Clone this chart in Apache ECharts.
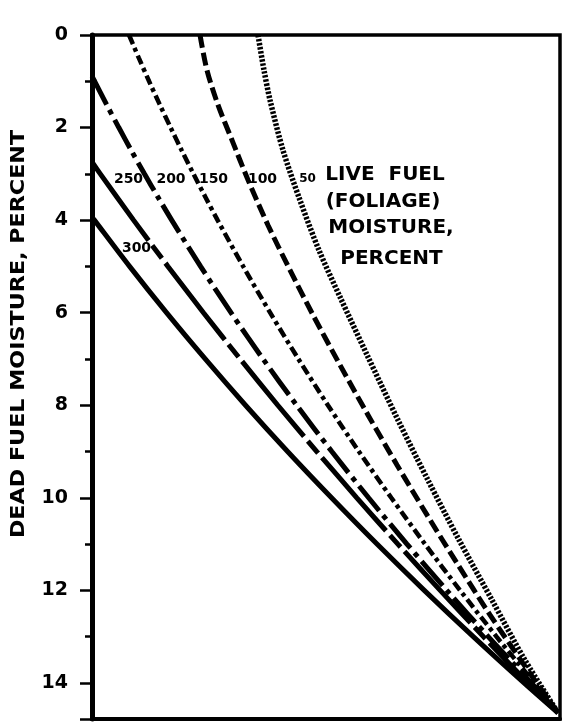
<!DOCTYPE html>
<html>
<head>
<meta charset="utf-8">
<script src="https://cdn.jsdelivr.net/npm/echarts@6/dist/echarts.min.js"></script>
<style>
  html, body { margin: 0; padding: 0; background: #fff; }
  #chart { width: 563px; height: 723px; }
</style>
</head>
<body>
<div id="chart"></div>
<script>
// Dead fuel moisture axis (percent), inverted: 0 at top
const deadFuelTicks = [0, 2, 4, 6, 8, 10, 12, 14];
const yMin = 0;
const yMax = 14.78;

// Live fuel (foliage) moisture curves: [relative position, dead fuel moisture %]
const liveFuelLevels = ['300', '250', '200', '150', '100', '50'];

const lf300 = [[0,3.93],[0.51,4],[8.03,5],[15.92,6],[24.19,7],[32.8,8],[41.79,9],[51.18,10],[60.9,11],[71.0,12],[81.47,13],[92.31,14],[99.6,14.65]];
const lf250 = [[0,2.74],[1.77,3],[8.88,4],[16.23,5],[23.82,6],[31.65,7],[39.7,8],[48.03,9],[56.58,10],[65.36,11],[74.4,12],[83.63,13],[93.14,14],[99.6,14.65]];
const lf200 = [[0,0.89],[0.57,1],[3.1,1.5],[5.73,2],[8.42,2.5],[11.2,3],[14.08,3.5],[17.03,4],[23.2,5],[29.7,6],[36.54,7],[43.72,8],[51.24,9],[59.1,10],[67.3,11],[75.81,12],[84.66,13],[93.87,14],[99.6,14.65]];
const lf150 = [[7.91,0],[10.02,0.5],[12.2,1],[14.46,1.5],[16.8,2],[19.2,2.5],[21.67,3],[24.22,3.5],[26.83,4],[32.31,5],[38.06,6],[44.1,7],[50.41,8],[57.03,9],[63.95,10],[71.15,11],[78.65,12],[86.43,13],[94.49,14],[99.6,14.65]];
const lf100 = [[23.08,0],[24.57,0.76],[26.92,1.51],[29.91,2.27],[33.33,3.13],[37.61,4.11],[42.31,5.08],[47.22,6.05],[52.99,7.13],[58.97,8.21],[65.17,9.29],[71.58,10.37],[78.21,11.45],[85.04,12.53],[92.31,13.61],[99.6,14.65]];
const lf50 = [[35.47,0],[36.75,0.76],[38.03,1.4],[40.81,2.49],[44.44,3.57],[48.5,4.65],[52.99,5.66],[58.76,6.91],[65.38,8.32],[71.79,9.62],[78.42,10.91],[85.47,12.21],[92.52,13.51],[99.6,14.65]];

const seriesData = [lf300, lf250, lf200, lf150, lf100, lf50];
const dashStyles = ['solid', [97, 6, 16, 6], [32, 6, 5, 6], [10, 4, 4, 4], [13, 5], [2.5, 1.6]];
const lineWidths = [5, 5, 5, 4.5, 5, 5.5];

const chart = echarts.init(document.getElementById('chart'), null, { renderer: 'canvas' });

const series = seriesData.map((d, i) => ({
  name: liveFuelLevels[i],
  type: 'line',
  data: d,
  smooth: 0.3,
  symbol: 'none',
  clip: true,
  silent: true,
  lineStyle: { color: '#000', width: lineWidths[i], type: dashStyles[i], cap: 'butt' }
}));

const labelFont = 'bold 14px "DejaVu Sans"';
const blockFont = 'bold 20px "DejaVu Sans"';

function txt(text, x, y, font, extra) {
  return Object.assign({
    type: 'text', x: x, y: y, silent: true,
    style: { text: text, font: font, fill: '#000', align: 'center', verticalAlign: 'middle', textAlign: 'center', textVerticalAlign: 'middle' }
  }, extra || {});
}

chart.setOption({
  backgroundColor: '#fff',
  animation: false,
  grid: { left: 92, top: 35, right: 3, bottom: 4, show: true, borderColor: '#000', borderWidth: 3.5, backgroundColor: '#fff' },
  xAxis: {
    type: 'value', min: 0, max: 100,
    axisLine: { show: true, onZero: false, lineStyle: { color: '#000', width: 4 } },
    axisTick: { show: false }, axisLabel: { show: false }, splitLine: { show: false }
  },
  yAxis: {
    type: 'value', inverse: true, min: yMin, max: yMax, interval: 2,
    axisLine: { show: true, onZero: false, lineStyle: { color: '#000', width: 5 } },
    axisTick: { show: true, length: 12, lineStyle: { color: '#000', width: 2.5 } },
    minorTick: { show: true, splitNumber: 2, length: 7, lineStyle: { color: '#000', width: 2.5 } },
    splitLine: { show: false }, minorSplitLine: { show: false },
    axisLabel: {
      margin: 24, color: '#000', fontFamily: 'DejaVu Sans', fontWeight: 'bold', fontSize: 19,
      formatter: v => deadFuelTicks.indexOf(Math.round(v * 100) / 100) >= 0 ? String(v) : ''
    }
  },
  series: series,
  graphic: [
    txt('DEAD FUEL MOISTURE, PERCENT', 19, 334, 'bold 19px "DejaVu Sans"', { rotation: Math.PI / 2, scaleX: 1.17 }),
    txt(liveFuelLevels[1], 128.5, 179, labelFont),
    txt(liveFuelLevels[2], 171, 179, labelFont),
    txt(liveFuelLevels[3], 213.5, 179, labelFont),
    txt(liveFuelLevels[4], 262.5, 179, labelFont),
    txt(liveFuelLevels[5], 307.5, 179, 'bold 12px "DejaVu Sans"'),
    txt(liveFuelLevels[0], 136.5, 248, labelFont),
    txt('LIVE  FUEL', 385, 175, blockFont),
    txt('(FOLIAGE)', 383, 201.5, blockFont),
    txt('MOISTURE,', 391, 228, blockFont),
    txt('PERCENT', 391.5, 258.5, blockFont)
  ]
});
</script>
</body>
</html>
